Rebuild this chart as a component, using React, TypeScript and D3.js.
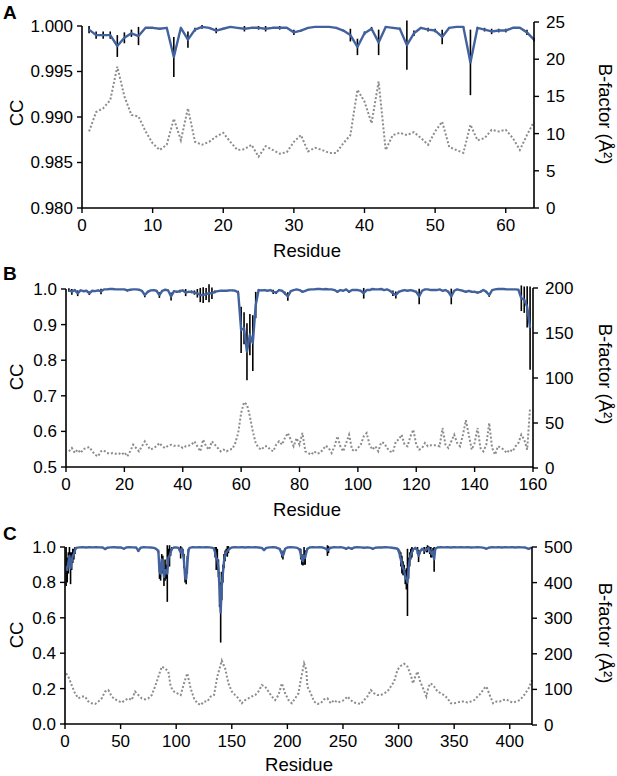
import * as d3 from 'd3'
import { useEffect } from 'react'

// ---- Panel A (64 residues) ----
const aXTicks = [0, 10, 20, 30, 40, 50, 60]
const aCCTicks = [0.98, 0.985, 0.99, 0.995, 1.0]
const aBTicks = [0, 5, 10, 15, 20, 25]
const aCC = [
  0.9996, 0.999, 0.999, 0.999, 0.9978, 0.9987, 0.9992, 0.9989, 0.9998, 0.9998,
  0.9997, 0.9998, 0.9966, 0.9998, 0.9985, 0.9996, 0.9999, 0.9998, 0.9995, 0.9997,
  0.9999, 0.9998, 0.9997, 0.9998, 0.9998, 0.9997, 0.9998, 0.9998, 0.9998, 0.9993,
  0.9995, 0.9998, 0.9999, 0.9999, 0.9999, 0.9998, 0.9995, 0.999, 0.9977, 0.9992,
  0.9997, 0.9982, 0.9999, 0.9998, 0.9997, 0.9979, 0.9992, 0.9998, 0.9996, 0.9995,
  0.9988, 0.9998, 0.9999, 0.9999, 0.996, 0.9998, 0.9996, 0.9994, 0.9995, 0.9995,
  0.9998, 0.9998, 0.9993, 0.9985,
]
const aErr = [
  0.0004, 0.0004, 0.0004, 0.0004, 0.0012, 0.0006, 0.0004, 0.001, 0, 0.0001,
  0.0001, 0, 0.0022, 0, 0.0009, 0.0002, 0.0002, 0, 0.0003, 0.0001,
  0.0001, 0, 0.0003, 0.0001, 0.0002, 0.0003, 0.0001, 0.0002, 0.0001, 0.0003,
  0.0001, 0.0001, 0.0001, 0.0001, 0, 0.0001, 0.0001, 0.0007, 0.0009, 0.0002,
  0.0002, 0.0014, 0.0001, 0.0001, 0.0001, 0.0027, 0.0003, 0.0001, 0.0002, 0.0002,
  0.0008, 0.0001, 0.0001, 0.0001, 0.0036, 0.0001, 0.0002, 0.0003, 0.0002, 0.0002,
  0.0001, 0.0001, 0.0003, 0.0002,
]
const aBFactor = [
  10.3, 12.9, 13.4, 14.5, 19.0, 15.0, 12.5, 12.3, 10.3, 8.7,
  7.8, 8.5, 12.0, 9.1, 13.4, 8.9, 8.5, 8.9, 9.6, 10.1,
  8.9, 7.8, 7.9, 8.5, 6.9, 8.3, 7.8, 7.3, 7.5, 8.9,
  9.8, 7.6, 8.1, 7.8, 7.4, 7.4, 8.7, 9.8, 15.9, 14.3,
  11.4, 17.0, 7.8, 9.8, 10.1, 9.8, 10.2, 9.4, 8.5, 10.3,
  11.6, 8.2, 7.8, 7.4, 11.2, 9.1, 9.4, 10.5, 10.3, 10.5,
  9.4, 7.8, 9.8, 11.6,
]

// ---- Panel B (159 residues) ----
const bXTicks = [0, 20, 40, 60, 80, 100, 120, 140, 160]
const bCCTicks = [0.5, 0.6, 0.7, 0.8, 0.9, 1.0]
const bBTicks = [0, 50, 100, 150, 200]
const bCC = [
  0.997, 0.992, 0.997, 0.988, 0.996, 0.994, 0.995, 0.988, 0.995, 0.994,
  0.996, 0.993, 0.999, 0.999, 1.0, 1.0, 0.999, 0.999, 0.999, 0.999,
  0.996, 0.998, 0.999, 0.999, 0.998, 0.995, 0.983, 0.992, 0.996, 0.997,
  0.995, 0.983, 0.995, 0.998, 0.996, 0.979, 0.994, 0.992, 0.994, 0.996,
  0.99, 0.992, 0.992, 0.99, 0.988, 0.983, 0.983, 0.986, 0.988, 0.988,
  0.992, 0.994, 0.995, 0.995, 0.995, 0.996, 0.996, 0.995, 0.99, 0.885,
  0.89, 0.824, 0.872, 0.848, 0.955, 0.997, 0.996, 0.997, 0.995, 0.997,
  0.992, 0.99, 0.997, 0.995, 0.988, 0.979, 0.994, 0.997, 0.999, 0.997,
  0.992, 0.995, 0.998, 0.999, 0.999, 1.0, 1.0, 0.999, 1.0, 0.999,
  0.999, 0.997, 0.992, 0.997, 0.995, 0.999, 0.992, 0.997, 0.997, 0.997,
  0.995, 0.988, 0.997, 0.997, 1.0, 0.999, 0.999, 1.0, 0.997, 0.999,
  0.995, 0.988, 0.983, 0.992, 0.995, 0.997, 0.995, 0.997, 0.995, 0.992,
  0.979, 0.995, 0.999, 0.999, 0.997, 0.997, 0.997, 0.999, 0.995, 0.997,
  0.992, 0.979, 0.995, 0.999, 0.997, 0.995, 0.992, 0.995, 0.992, 0.992,
  0.99, 0.992, 0.997, 0.992, 0.983, 0.997, 0.999, 1.0, 1.0, 1.0,
  0.999, 0.999, 0.999, 0.999, 0.998, 0.974, 0.97, 0.95, 0.89,
]
const bErr = [
  0.005, 0.008, 0.002, 0.008, 0.002, 0.003, 0.002, 0.005, 0.002, 0.002,
  0.002, 0.008, 0.001, 0.001, 0, 0, 0.001, 0.001, 0.001, 0.001,
  0.003, 0.001, 0.001, 0.001, 0.001, 0.002, 0.006, 0.003, 0.001, 0.001,
  0.002, 0.008, 0.002, 0.001, 0.002, 0.011, 0.002, 0.003, 0.004, 0.002,
  0.01, 0.003, 0.004, 0.006, 0.012, 0.02, 0.022, 0.017, 0.025, 0.016,
  0.004, 0.002, 0.002, 0.002, 0.002, 0.002, 0.002, 0.002, 0.005, 0.065,
  0.045, 0.08, 0.058, 0.078, 0.037, 0.003, 0.002, 0.002, 0.002, 0.002,
  0.006, 0.004, 0.002, 0.002, 0.004, 0.012, 0.002, 0.001, 0.001, 0.002,
  0.003, 0.002, 0.001, 0.001, 0.001, 0, 0, 0.001, 0, 0.001,
  0.001, 0.001, 0.003, 0.001, 0.002, 0.001, 0.003, 0.001, 0.001, 0.001,
  0.002, 0.015, 0.001, 0.001, 0, 0.001, 0.001, 0, 0.001, 0.001,
  0.002, 0.008, 0.01, 0.003, 0.002, 0.001, 0.002, 0.001, 0.002, 0.003,
  0.022, 0.002, 0.001, 0.001, 0.001, 0.001, 0.001, 0.001, 0.002, 0.001,
  0.003, 0.022, 0.002, 0.001, 0.001, 0.002, 0.003, 0.002, 0.003, 0.003,
  0.003, 0.003, 0.001, 0.003, 0.005, 0.001, 0.001, 0, 0, 0,
  0.001, 0.001, 0.001, 0.001, 0.001, 0.036, 0.037, 0.058, 0.117,
]
const bBFactor = [
  18.5, 22.2, 16.7, 20.4, 16.7, 21.1, 22.2, 23.3, 18.5, 14.8,
  13.0, 18.5, 19.6, 16.7, 15.9, 16.7, 15.9, 16.7, 14.8, 17.4,
  13.0, 18.5, 25.9, 22.2, 18.5, 24.1, 29.6, 24.1, 20.4, 22.2,
  24.1, 27.8, 24.1, 22.2, 24.8, 25.9, 24.8, 24.8, 24.8, 22.2,
  24.1, 24.8, 25.9, 29.6, 24.1, 18.5, 31.5, 24.1, 20.4, 29.6,
  25.9, 22.2, 18.5, 20.4, 18.5, 20.4, 21.1, 27.8, 38.9, 61.1,
  73.0, 70.4, 57.4, 40.7, 27.8, 22.2, 20.4, 24.1, 24.1, 20.4,
  18.5, 25.9, 29.6, 25.9, 33.3, 38.9, 31.5, 24.1, 33.3, 26.0,
  38.9, 18.5, 16.7, 14.8, 18.5, 15.9, 16.7, 20.4, 24.8, 22.2,
  16.7, 24.1, 35.2, 24.1, 18.5, 27.8, 37.0, 20.4, 18.5, 22.2,
  25.9, 35.2, 38.9, 25.9, 20.4, 24.1, 18.5, 28.5, 27.8, 22.2,
  18.5, 17.4, 29.6, 31.5, 37.0, 25.9, 24.1, 35.2, 42.6, 25.9,
  20.4, 22.2, 27.8, 24.1, 25.2, 25.2, 25.2, 24.1, 44.4, 25.9,
  22.2, 29.6, 37.0, 27.8, 24.1, 37.0, 53.0, 37.0, 20.4, 27.8,
  44.4, 22.2, 18.5, 25.9, 50.0, 22.2, 14.8, 24.1, 22.2, 20.4,
  16.7, 20.4, 18.5, 24.1, 27.8, 37.0, 31.5, 20.4, 67.0,
]

// ---- Panel C (420 residues, readings as [residue, CC, error]) ----
const cXTicks = [0, 50, 100, 150, 200, 250, 300, 350, 400]
const cCCTicks = [0, 0.2, 0.4, 0.6, 0.8, 1.0]
const cBTicks = [0, 100, 200, 300, 400, 500]
const cCCReadings: [number, number, number][] = [
  [1, 0.89, 0.11], [2, 0.87, 0.07], [3, 0.91, 0.06], [4, 0.95, 0.05], [5, 0.88, 0.09],
  [6, 0.92, 0.05], [7, 0.95, 0.04], [8, 0.96, 0.03], [9, 0.98, 0.02], [10, 0.995, 0.005],
  [13, 0.998, 0], [16, 0.999, 0], [19, 0.997, 0], [22, 0.999, 0], [25, 0.998, 0],
  [28, 0.999, 0], [31, 0.998, 0], [34, 0.997, 0], [36, 0.988, 0.004], [38, 0.996, 0],
  [41, 0.998, 0], [44, 0.999, 0], [47, 0.997, 0], [50, 0.998, 0], [53, 0.99, 0.004],
  [55, 0.997, 0], [58, 0.999, 0], [61, 0.998, 0], [64, 0.997, 0], [66, 0.978, 0.006],
  [68, 0.996, 0], [71, 0.999, 0], [74, 0.998, 0], [77, 0.997, 0], [80, 0.995, 0.003],
  [82, 0.99, 0.005], [84, 0.975, 0.01], [85, 0.86, 0.04], [86, 0.85, 0.04], [87, 0.93, 0.03],
  [88, 0.9, 0.05], [89, 0.83, 0.05], [90, 0.87, 0.06], [91, 0.86, 0.04], [92, 0.85, 0.16],
  [93, 0.94, 0.05], [94, 0.95, 0.06], [95, 0.97, 0.02], [96, 0.99, 0.01], [98, 0.997, 0],
  [100, 0.998, 0], [102, 0.995, 0.004], [103, 0.985, 0.01], [104, 0.97, 0.035], [105, 0.99, 0.008],
  [106, 0.97, 0.02], [107, 0.92, 0.04], [108, 0.83, 0.03], [109, 0.82, 0.03], [110, 0.9, 0.05],
  [111, 0.98, 0.01], [112, 0.995, 0], [115, 0.999, 0], [118, 0.998, 0], [121, 0.999, 0],
  [124, 0.998, 0], [127, 0.999, 0], [130, 0.998, 0], [133, 0.995, 0], [134, 0.99, 0.005],
  [135, 0.97, 0.03], [136, 0.935, 0.065], [137, 0.93, 0.06], [138, 0.88, 0.05], [139, 0.76, 0.1],
  [140, 0.63, 0.17], [141, 0.78, 0.08], [142, 0.85, 0.05], [143, 0.92, 0.04], [144, 0.95, 0.03],
  [145, 0.97, 0.02], [146, 0.975, 0.03], [147, 0.985, 0.02], [148, 0.99, 0.005], [150, 0.997, 0],
  [153, 0.999, 0], [156, 0.998, 0], [159, 0.999, 0], [162, 0.997, 0], [165, 0.999, 0],
  [168, 0.998, 0], [171, 0.999, 0], [174, 0.997, 0], [177, 0.995, 0], [179, 0.982, 0.005],
  [181, 0.995, 0], [184, 0.998, 0], [187, 0.999, 0], [190, 0.997, 0], [193, 0.99, 0.004],
  [195, 0.96, 0.02], [196, 0.95, 0.02], [197, 0.97, 0.01], [198, 0.99, 0.005], [200, 0.997, 0],
  [203, 0.999, 0], [206, 0.998, 0], [209, 0.995, 0], [211, 0.985, 0.008], [212, 0.96, 0.03],
  [213, 0.93, 0.03], [214, 0.92, 0.025], [215, 0.95, 0.05], [216, 0.94, 0.04], [217, 0.97, 0.01],
  [218, 0.99, 0.005], [220, 0.997, 0], [223, 0.999, 0], [226, 0.998, 0], [229, 0.999, 0],
  [232, 0.997, 0], [235, 0.99, 0.005], [236, 0.98, 0.03], [237, 0.985, 0.02], [239, 0.996, 0],
  [242, 0.999, 0], [245, 0.998, 0], [248, 0.999, 0], [251, 0.995, 0.003], [253, 0.99, 0.005],
  [255, 0.997, 0], [258, 0.99, 0.006], [260, 0.997, 0], [263, 0.999, 0], [266, 0.998, 0],
  [269, 0.996, 0], [272, 0.998, 0], [275, 0.995, 0], [277, 0.99, 0.005], [279, 0.996, 0],
  [282, 0.998, 0], [285, 0.997, 0], [288, 0.999, 0], [291, 0.998, 0], [294, 0.996, 0],
  [297, 0.993, 0], [299, 0.99, 0.005], [300, 0.98, 0.01], [301, 0.96, 0.02], [302, 0.93, 0.04],
  [303, 0.9, 0.05], [304, 0.88, 0.04], [305, 0.87, 0.03], [306, 0.83, 0.04], [307, 0.82, 0.06],
  [308, 0.8, 0.19], [309, 0.88, 0.06], [310, 0.93, 0.04], [311, 0.96, 0.03], [312, 0.97, 0.03],
  [313, 0.985, 0.01], [315, 0.995, 0], [317, 0.98, 0.02], [318, 0.95, 0.035], [319, 0.97, 0.01],
  [321, 0.99, 0.005], [323, 0.98, 0.02], [325, 0.985, 0.015], [326, 0.99, 0.02], [327, 0.995, 0.01],
  [328, 0.98, 0.02], [329, 0.97, 0.03], [330, 0.96, 0.02], [331, 0.975, 0.02], [332, 0.93, 0.07],
  [333, 0.99, 0.005], [335, 0.997, 0], [338, 0.999, 0], [341, 0.998, 0], [344, 0.999, 0],
  [347, 0.997, 0], [350, 0.999, 0], [353, 0.998, 0], [356, 0.999, 0], [359, 0.998, 0],
  [362, 0.999, 0], [365, 0.997, 0], [368, 0.998, 0], [371, 0.999, 0], [374, 0.998, 0],
  [377, 0.995, 0], [379, 0.99, 0.003], [381, 0.996, 0], [384, 0.999, 0], [387, 0.998, 0],
  [390, 0.999, 0], [393, 0.997, 0], [396, 0.999, 0], [399, 0.998, 0], [402, 0.999, 0],
  [405, 0.997, 0], [408, 0.999, 0], [411, 0.998, 0], [414, 0.997, 0], [417, 0.99, 0.004],
  [419, 0.995, 0], [420, 0.997, 0],
]
// [residue, B-factor]
const cBReadings: [number, number][] = [
  [1, 145], [3, 136], [6, 112], [9, 89], [12, 75], [15, 80], [18, 80], [21, 66], [24, 61], [27, 59],
  [30, 66], [33, 75], [36, 94], [39, 98], [42, 80], [45, 72], [48, 68], [51, 63], [54, 70], [57, 75],
  [60, 70], [63, 94], [66, 84], [69, 75], [72, 72], [75, 75], [78, 84], [81, 108], [84, 136], [87, 164],
  [90, 159], [93, 150], [95, 108], [98, 94], [101, 89], [104, 84], [107, 117], [110, 145], [113, 103], [116, 75],
  [119, 61], [122, 56], [125, 66], [128, 66], [131, 80], [134, 84], [137, 136], [141, 181], [144, 159], [147, 117],
  [150, 94], [153, 84], [156, 75], [159, 61], [162, 70], [165, 75], [168, 80], [171, 84], [174, 94], [177, 112],
  [180, 108], [183, 94], [186, 80], [189, 70], [192, 84], [195, 117], [198, 89], [201, 70], [204, 61], [207, 75],
  [210, 89], [212, 126], [215, 173], [217, 155], [218, 108], [221, 89], [224, 66], [227, 59], [230, 61], [233, 72],
  [236, 75], [239, 61], [242, 70], [245, 63], [248, 66], [251, 70], [254, 80], [257, 70], [260, 63], [263, 61],
  [266, 59], [269, 70], [272, 80], [275, 98], [278, 89], [281, 84], [284, 84], [287, 89], [290, 94], [293, 108],
  [296, 122], [299, 155], [302, 166], [305, 172], [308, 164], [311, 140], [313, 117], [315, 136], [317, 150], [319, 126],
  [322, 103], [325, 80], [327, 108], [329, 117], [332, 108], [335, 94], [338, 89], [341, 84], [344, 75], [347, 61],
  [350, 61], [353, 63], [356, 66], [359, 66], [362, 63], [365, 66], [368, 70], [371, 80], [374, 89], [377, 103],
  [379, 108], [382, 84], [385, 61], [388, 66], [391, 66], [394, 70], [397, 72], [400, 66], [403, 63], [406, 66],
  [409, 70], [412, 80], [414, 89], [417, 103], [420, 126],
]

type Reading = { res: number; cc: number; err: number }
type PanelSpec = {
  letter: string
  letterY: number
  left: number
  right: number
  top: number
  bottom: number
  rTop: number
  rBottom: number
  residueX: number
  residueY: number
  ccTitleY: number
  bTitleY: number
  xMax: number
  xTicks: number[]
  ccDomain: [number, number]
  ccTicks: number[]
  ccFormat: string
  bMax: number
  bTicks: number[]
  readings: Reading[]
  bfactor: [number, number][]
}

const font = 'Liberation Sans, Arial, sans-serif'
const blue = '#41629f'

function TracePanel({ p }: { p: PanelSpec }) {
  const x = d3.scaleLinear().domain([0, p.xMax]).range([p.left, p.right])
  const y = d3.scaleLinear().domain(p.ccDomain).range([p.bottom, p.top])
  const yB = d3.scaleLinear().domain([0, p.bMax]).range([p.rBottom, p.rTop])
  const fmt = d3.format(p.ccFormat)

  const ccLine = d3
    .line<Reading>()
    .x((d) => x(d.res))
    .y((d) => y(d.cc))
  const bLine = d3
    .line<[number, number]>()
    .x((d) => x(d[0]))
    .y((d) => yB(d[1]))

  return (
    <g fontFamily={font}>
      <text x={3} y={p.letterY} fontSize={19} fontWeight="bold">
        {p.letter}
      </text>

      {/* B-factor trace, dotted grey */}
      <path
        d={bLine(p.bfactor)!}
        fill="none"
        stroke="#8c8c8c"
        strokeWidth={2}
        strokeDasharray="2 2"
      />

      {/* error bars */}
      <g stroke="#000" strokeWidth={1.6}>
        {p.readings
          .filter((d) => d.err > 0)
          .map((d) => (
            <line
              key={d.res}
              x1={x(d.res)}
              x2={x(d.res)}
              y1={y(d.cc - d.err)}
              y2={y(d.cc + d.err)}
            />
          ))}
      </g>

      <path d={ccLine(p.readings)!} fill="none" stroke={blue} strokeWidth={2.4} strokeLinejoin="round" />

      {/* axes */}
      <g stroke="#000" strokeWidth={1.6} fill="none">
        <path d={`M${p.left},${p.top}V${p.bottom}H${p.right}`} />
        <path d={`M${p.right},${p.rTop}V${p.rBottom}`} />
      </g>

      <g fontSize={17} textAnchor="middle">
        {p.xTicks.map((t) => (
          <g key={t} transform={`translate(${x(t)},${p.bottom})`}>
            <line y2={5} stroke="#000" strokeWidth={1.4} />
            <text y={23}>{t}</text>
          </g>
        ))}
      </g>
      <g fontSize={17} textAnchor="end">
        {p.ccTicks.map((t) => (
          <g key={t} transform={`translate(${p.left},${y(t)})`}>
            <line x2={-5} stroke="#000" strokeWidth={1.4} />
            <text x={-9} dy="0.35em">
              {fmt(t)}
            </text>
          </g>
        ))}
      </g>
      <g fontSize={17} textAnchor="start">
        {p.bTicks.map((t) => (
          <g key={t} transform={`translate(${p.right},${yB(t)})`}>
            <line x2={5} stroke="#000" strokeWidth={1.4} />
            <text x={12} dy="0.35em">
              {t}
            </text>
          </g>
        ))}
      </g>

      <text fontSize={18.5} textAnchor="middle" x={p.residueX} y={p.residueY}>
        Residue
      </text>
      <text fontSize={18.5} textAnchor="middle" transform={`translate(23,${p.ccTitleY}) rotate(-90)`}>
        CC
      </text>
      <text fontSize={18.5} textAnchor="middle" transform={`translate(599,${p.bTitleY}) rotate(90)`}>
        B-factor (Å²)
      </text>
    </g>
  )
}

const panels: PanelSpec[] = [
  {
    letter: 'A', letterY: 19,
    left: 82, right: 534, top: 26, bottom: 208, rTop: 22, rBottom: 208,
    residueX: 307, residueY: 257, ccTitleY: 113, bTitleY: 114,
    xMax: 64, xTicks: aXTicks,
    ccDomain: [0.98, 1.0], ccTicks: aCCTicks, ccFormat: '.3f',
    bMax: 25, bTicks: aBTicks,
    readings: aCC.map((cc, i) => ({ res: i + 1, cc, err: aErr[i] })),
    bfactor: aBFactor.map((b, i) => [i + 1, b] as [number, number]),
  },
  {
    letter: 'B', letterY: 280,
    left: 66, right: 533, top: 289, bottom: 467, rTop: 288, rBottom: 468,
    residueX: 307, residueY: 516, ccTitleY: 377, bTitleY: 374,
    xMax: 160, xTicks: bXTicks,
    ccDomain: [0.5, 1.0], ccTicks: bCCTicks, ccFormat: '.1f',
    bMax: 200, bTicks: bBTicks,
    readings: bCC.map((cc, i) => ({ res: i + 1, cc, err: bErr[i] })),
    bfactor: bBFactor.map((b, i) => [i + 1, b] as [number, number]),
  },
  {
    letter: 'C', letterY: 540,
    left: 65, right: 532, top: 547, bottom: 724, rTop: 547, rBottom: 725,
    residueX: 299, residueY: 771, ccTitleY: 635, bTitleY: 633,
    xMax: 420, xTicks: cXTicks,
    ccDomain: [0, 1.0], ccTicks: cCCTicks, ccFormat: '.1f',
    bMax: 500, bTicks: cBTicks,
    readings: cCCReadings.map(([res, cc, err]) => ({ res, cc, err })),
    bfactor: cBReadings,
  },
]

export default function App() {
  useEffect(() => {
    document.body.style.margin = '0'
  }, [])
  return (
    <svg width={617} height={776} style={{ display: 'block', background: '#fff' }}>
      {panels.map((p) => (
        <TracePanel key={p.letter} p={p} />
      ))}
    </svg>
  )
}
